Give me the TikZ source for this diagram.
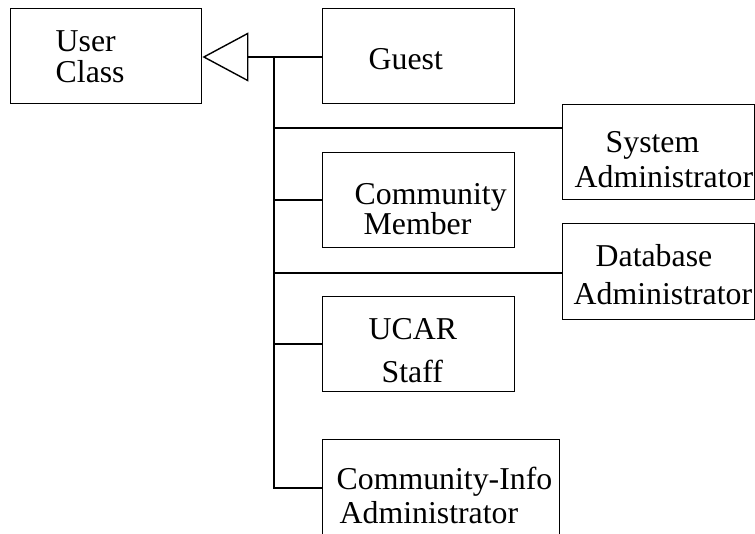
\documentclass[tikz,border=0pt]{standalone}
\usepackage{fontspec}
\setmainfont{Liberation Serif}
\usetikzlibrary{arrows.meta}
\begin{document}
\begin{tikzpicture}[x=1pt,y=1pt,
  line width=1.4pt,
  classbox/.style={draw, rectangle, inner sep=0pt, anchor=south west},
  lbl/.style={anchor=base west, inner sep=0pt, font=\fontsize{31.8}{36}\selectfont},
  inherit/.style={-{Triangle[open, length=46pt, width=49pt, line width=1.4pt]}}]
\useasboundingbox (0,0) rectangle (755,533);
% class boxes
\node[classbox, minimum width=191pt, minimum height=95pt] (user)  at (10,429) {};
\node[classbox, minimum width=192pt, minimum height=95pt] (guest) at (322,429) {};
\node[classbox, minimum width=192pt, minimum height=95pt] (sys)   at (562,333) {};
\node[classbox, minimum width=192pt, minimum height=95pt] (comm)  at (322,285) {};
\node[classbox, minimum width=192pt, minimum height=96pt] (db)    at (562,213) {};
\node[classbox, minimum width=192pt, minimum height=95pt] (ucar)  at (322,141) {};
\node[classbox, minimum width=237pt, minimum height=103pt] (info) at (322,-10) {};
% labels
\node[lbl] (tUser)  at (55,481)  {User};
\node[lbl] (tClass) at (55,450)  {Class};
\node[lbl] (tGuest) at (368,463) {Guest};
\node[lbl] (tSys1)  at (605,380) {System};
\node[lbl] (tSys2)  at (574,345) {Administrator};
\node[lbl] (tCom1)  at (354,328) {Community};
\node[lbl] (tCom2)  at (363,298) {Member};
\node[lbl] (tDb1)   at (595,266) {Database};
\node[lbl] (tDb2)   at (573,228) {Administrator};
\node[lbl] (tUc1)   at (368,193) {UCAR};
\node[lbl] (tUc2)   at (381,150) {Staff};
\node[lbl] (tIn1)   at (336,44)  {Community-Info};
\node[lbl] (tIn2)   at (339,10)  {Administrator};
% generalization tree
\coordinate (jTop) at (274,476);
\coordinate (jSys) at (274,405);
\coordinate (jCom) at (274,333);
\coordinate (jDb)  at (274,260);
\coordinate (jUc)  at (274,189);
\coordinate (jIn)  at (274,45);
\draw[inherit] (jTop -| guest.west) -- (jTop -| user.east);
\draw (jTop) -- (jIn) -- (jIn -| info.west);
\draw (jSys) -- (jSys -| sys.west);
\draw (jCom) -- (jCom -| comm.west);
\draw (jDb)  -- (jDb -| db.west);
\draw (jUc)  -- (jUc -| ucar.west);
\end{tikzpicture}
\end{document}
